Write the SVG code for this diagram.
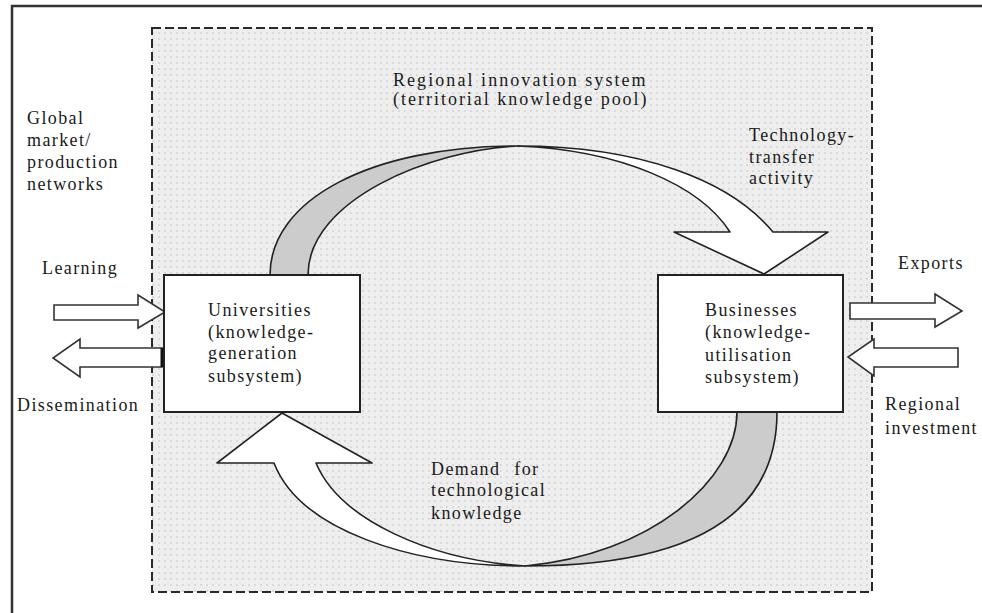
<svg xmlns="http://www.w3.org/2000/svg" width="982" height="613" viewBox="0 0 982 613">
<defs>
<pattern id="dots" width="6" height="6" patternUnits="userSpaceOnUse">
<rect width="6" height="6" fill="#eeeeee"/>
<circle cx="3" cy="3" r="1" fill="#d4d4d4"/>
</pattern>
<style>
text{font-family:"Liberation Serif","Times New Roman",serif;font-size:18px;fill:#1a1a1a;letter-spacing:1.4px}
.box{fill:#ffffff;stroke:#222;stroke-width:2}
.rib{stroke:#222;stroke-width:1.6;stroke-linejoin:round}
.white{fill:#ffffff}
.gray{fill:#cccccc}
.side{fill:#ffffff;stroke:#333;stroke-width:1.6;stroke-linejoin:miter}
</style>
</defs>
<rect width="982" height="613" fill="#ffffff"/>
<path d="M12,613 V6 H982" fill="none" stroke="#333" stroke-width="2.5"/>
<g id="region">
<rect x="152" y="28" width="720" height="564" fill="url(#dots)" stroke="#2a2a2a" stroke-width="2" stroke-dasharray="9,4"/>
<text x="393" y="86" textLength="254" lengthAdjust="spacing">Regional innovation system</text>
<text x="393" y="105" textLength="255" lengthAdjust="spacing">(territorial knowledge pool)</text>
</g>
<g id="global-label">
<text x="27" y="124">Global</text>
<text x="27" y="146">market/</text>
<text x="27" y="168">production</text>
<text x="27" y="190">networks</text>
</g>
<g id="connectors">
<g id="tech-transfer">
<path class="rib gray" d="M270,275 C270,200 370,146 518,146 C430,150 308,200 308,275 Z"/>
<path class="rib white" d="M518,146 C640,146 730,180 773,232 L828,232 L764,274 L674,232 L730,232 C700,185 620,150 518,146 Z"/>
<text x="749" y="141">Technology-</text>
<text x="749" y="163">transfer</text>
<text x="749" y="184">activity</text>
</g>
<g id="demand">
<path class="rib gray" d="M777,412 C777,520 685,566 525,566 C650,555 737,480 737,412 Z"/>
<path class="rib white" d="M525,566 C410,566 300,530 274,463 L217,463 L282,413 L372,463 L316,463 C340,520 430,560 525,566 Z"/>
<text x="431" y="475" word-spacing="8">Demand for</text>
<text x="431" y="496">technological</text>
<text x="431" y="519">knowledge</text>
</g>
<g id="learning">
<path class="side" d="M54,305 L138,305 L138,295 L165,312 L138,328 L138,320 L54,320 Z"/>
<text x="42" y="274">Learning</text>
</g>
<g id="dissemination">
<path class="side" d="M162,348 L80,348 L80,339 L53,358 L80,377 L80,367 L162,367 Z"/>
<line x1="162" y1="348" x2="162" y2="367" stroke="#111" stroke-width="3"/>
<text x="17" y="411">Dissemination</text>
</g>
<g id="exports">
<path class="side" d="M850,303 L935,303 L935,294 L962,311 L935,327 L935,319 L850,319 Z"/>
<text x="898" y="269">Exports</text>
</g>
<g id="regional-investment">
<path class="side" d="M958,348 L874,348 L874,339 L848,357 L874,376 L874,367 L958,367 Z"/>
<text x="885" y="410">Regional</text>
<text x="885" y="434">investment</text>
</g>
</g>
<g id="universities">
<rect class="box" x="164" y="275" width="196" height="137"/>
<text x="208" y="316">Universities</text>
<text x="208" y="338">(knowledge-</text>
<text x="208" y="359">generation</text>
<text x="208" y="382">subsystem)</text>
</g>
<g id="businesses">
<rect class="box" x="658" y="275" width="185" height="137"/>
<text x="705" y="316">Businesses</text>
<text x="705" y="338">(knowledge-</text>
<text x="705" y="361">utilisation</text>
<text x="705" y="383">subsystem)</text>
</g>
</svg>
